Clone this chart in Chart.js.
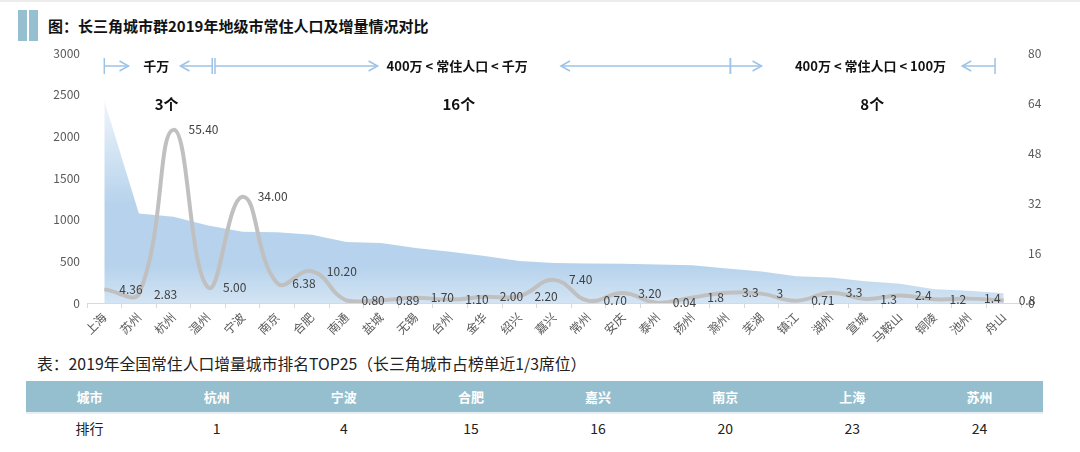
<!DOCTYPE html>
<html>
<head>
<meta charset="utf-8">
<script src="https://cdn.jsdelivr.net/npm/chart.js@4.4.1/dist/chart.umd.min.js"></script>
<style>
  html, body { margin: 0; padding: 0; background: #fff; }
  body { width: 1080px; height: 452px; position: relative; overflow: hidden;
         font-family: "Noto Sans CJK SC", "Noto Sans", sans-serif; }
  .topline { position: absolute; left: 0; top: 0; width: 1080px; height: 2px; background: #ececec; }
  .bar { position: absolute; top: 10px; width: 9px; height: 31px; background: #96c0d0; }
  .title { position: absolute; left: 48px; top: 14px; font-size: 15px; font-weight: bold; color: #111; line-height: 24px; }
  #wrap { position: absolute; left: 0; top: 0; width: 1080px; height: 348px; }
  .caption { position: absolute; left: 37px; top: 352px; font-size: 15.8px; color: #222; line-height: 24px; }
  table { position: absolute; left: 26px; top: 381px; width: 1017px; border-collapse: collapse; table-layout: fixed; }
  th { background: #95bfcf; color: #fff; font-size: 13px; font-weight: bold; height: 31px; padding: 0;
       border-bottom: 2px solid #e6f0f4; }
  td { color: #222; font-size: 14px; height: 28px; padding: 0; text-align: center; }
</style>
</head>
<body>
<div class="topline"></div>
<div class="bar" style="left:18px"></div>
<div class="bar" style="left:29px"></div>
<div class="title">图：长三角城市群2019年地级市常住人口及增量情况对比</div>
<div id="wrap"><canvas id="c"></canvas></div>
<div class="caption">表：2019年全国常住人口增量城市排名TOP25（长三角城市占榜单近1/3席位）</div>
<table id="rank"></table>
<script>
// ── Data ──
const cities = ["上海", "苏州", "杭州", "温州", "宁波", "南京", "合肥", "南通", "盐城",
  "无锡", "台州", "金华", "绍兴", "嘉兴", "常州", "安庆", "泰州", "扬州", "滁州",
  "芜湖", "镇江", "湖州", "宣城", "马鞍山", "铜陵", "池州", "舟山"];
const population = [2428, 1075, 1036, 930, 854, 850, 819, 731, 720,
  659, 615, 563, 505, 480, 474, 472, 463, 454, 414,
  377, 321, 306, 260, 232, 164, 148, 117];
const increment = [4.36, 2.83, 55.4, 5.0, 34.0, 6.38, 10.2, 0.8, 0.89,
  1.7, 1.1, 2.0, 2.2, 7.4, 0.7, 3.2, 0.04, 1.8, 3.3,
  3, 0.71, 3.3, 1.3, 2.4, 1.2, 1.4, 0.8];
const incrementText = ["4.36", "2.83", "55.40", "5.00", "34.00", "6.38", "10.20", "0.80", "0.89",
  "1.70", "1.10", "2.00", "2.20", "7.40", "0.70", "3.20", "0.04", "1.8", "3.3",
  "3", "0.71", "3.3", "1.3", "2.4", "1.2", "1.4", "0.8"];
const leftTicks = [0, 500, 1000, 1500, 2000, 2500, 3000];
const rightTicks = [0, 16, 32, 48, 64, 80];

const groupLabels = ["千万", "400万 < 常住人口 < 千万", "400万 < 常住人口 < 100万"];
const groupCounts = ["3个", "16个", "8个"];

// bracket layout, in category index units
const groupSpans = [[0, 3.12], [3.2, 18.1], [18.1, 25.75]];
const arrowTips = [[0.7, 2.2], [7.9, 13.2], [19.0, 24.8]];
const labelCenters = [1.5, 10.2, 22.15];
const countCenters = [1.8, 10.25, 22.2];

const rankCities = ["杭州", "宁波", "合肥", "嘉兴", "南京", "上海", "苏州"];
const rankValues = [1, 4, 15, 16, 20, 23, 24];

// ── Table ──
const table = document.getElementById("rank");
table.innerHTML =
  `<tr><th>城市</th>${rankCities.map((c) => `<th>${c}</th>`).join("")}</tr>` +
  `<tr><td>排行</td>${rankValues.map((v) => `<td>${v}</td>`).join("")}</tr>`;

// ── Plugins ──
const FONT = '"Noto Sans CJK SC", "Noto Sans", sans-serif';

const valueLabels = {
  id: "valueLabels",
  afterDatasetsDraw(chart) {
    const meta = chart.getDatasetMeta(0);
    const ctx = chart.ctx;
    ctx.save();
    ctx.font = `12px ${FONT}`;
    ctx.fillStyle = "#404040";
    ctx.textAlign = "left";
    ctx.textBaseline = "middle";
    meta.data.forEach((pt, i) => ctx.fillText(incrementText[i], pt.x + 15, pt.y));
    ctx.restore();
  },
};

function arrowHead(ctx, x, y, dir) {
  ctx.beginPath();
  ctx.moveTo(x - dir * 9, y - 5);
  ctx.lineTo(x, y);
  ctx.lineTo(x - dir * 9, y + 5);
  ctx.stroke();
}

const groupBrackets = {
  id: "groupBrackets",
  afterDraw(chart) {
    const ctx = chart.ctx;
    const xs = chart.scales.x;
    const px = (v) => xs.getPixelForValue(v);
    const yRow = chart.chartArea.top + 13;
    const yCount = chart.chartArea.top + 51;
    ctx.save();
    ctx.strokeStyle = "#9dc3e6";
    ctx.lineWidth = 1.5;
    groupSpans.forEach(([a, b], i) => {
      const x0 = px(a), x1 = px(b);
      const l = px(arrowTips[i][0]), r = px(arrowTips[i][1]);
      ctx.beginPath();
      ctx.moveTo(x0, yRow - 8); ctx.lineTo(x0, yRow + 8);
      ctx.moveTo(x1, yRow - 8); ctx.lineTo(x1, yRow + 8);
      ctx.moveTo(x0, yRow); ctx.lineTo(l, yRow);
      ctx.moveTo(r, yRow); ctx.lineTo(x1, yRow);
      ctx.stroke();
      arrowHead(ctx, l, yRow, 1);
      arrowHead(ctx, r, yRow, -1);
      ctx.fillStyle = "#111";
      ctx.textAlign = "center";
      ctx.textBaseline = "middle";
      ctx.font = `bold 13px ${FONT}`;
      ctx.fillText(groupLabels[i], px(labelCenters[i]), yRow);
      ctx.font = `bold 15px ${FONT}`;
      ctx.fillText(groupCounts[i], px(countCenters[i]), yCount);
    });
    ctx.restore();
  },
};

// ── Chart ──
function areaFill(context) {
  const { chart } = context;
  const a = chart.chartArea;
  if (!a) return "#bdd7ee";
  const g = chart.ctx.createLinearGradient(0, a.top, 0, a.bottom);
  g.addColorStop(0, "#ffffff");
  g.addColorStop(0.2, "#eef4fb");
  g.addColorStop(0.6, "#b7d3ec");
  g.addColorStop(0.85, "#b6d2ec");
  g.addColorStop(1, "#d3e4f4");
  return g;
}

const tickFont = { family: FONT, size: 12 };

new Chart(document.getElementById("c"), {
  type: "line",
  data: {
    labels: cities,
    datasets: [
      {
        label: "增量",
        data: increment,
        yAxisID: "y1",
        borderColor: "#c0c0c0",
        borderWidth: 4,
        pointRadius: 0,
        tension: 0.45,
        fill: false,
        order: 1,
      },
      {
        label: "常住人口",
        data: population,
        yAxisID: "y",
        borderWidth: 0,
        pointRadius: 0,
        tension: 0,
        fill: "origin",
        backgroundColor: areaFill,
        order: 2,
      },
    ],
  },
  options: {
    responsive: true,
    maintainAspectRatio: false,
    animation: false,
    layout: { padding: { top: 53, bottom: 0, left: 0, right: 0 } },
    plugins: { legend: { display: false }, tooltip: { enabled: false } },
    scales: {
      x: {
        offset: true,
        grid: { display: true, offset: true, drawOnChartArea: false, drawTicks: true, tickLength: 5, color: "#d9d9d9" },
        border: { display: true, color: "#d9d9d9", width: 1 },
        ticks: { color: "#595959", font: tickFont, minRotation: 45, maxRotation: 45, autoSkip: false, padding: 2 },
        afterFit: (s) => { s.height = 45; },
      },
      y: {
        position: "left",
        min: 0, max: 3000,
        afterBuildTicks: (s) => { s.ticks = leftTicks.map((v) => ({ value: v })); },
        grid: { display: false, drawTicks: false },
        border: { display: false },
        ticks: { color: "#595959", font: tickFont, padding: 7, callback: (v) => String(v) },
        afterFit: (s) => { s.width = 87; },
      },
      y1: {
        position: "right",
        min: 0, max: 80,
        afterBuildTicks: (s) => { s.ticks = rightTicks.map((v) => ({ value: v })); },
        grid: { display: false, drawTicks: false },
        border: { display: false },
        ticks: { color: "#595959", font: tickFont, padding: 7, callback: (v) => String(v) },
        afterFit: (s) => { s.width = 59; },
      },
    },
  },
  plugins: [valueLabels, groupBrackets],
});
</script>
</body>
</html>
